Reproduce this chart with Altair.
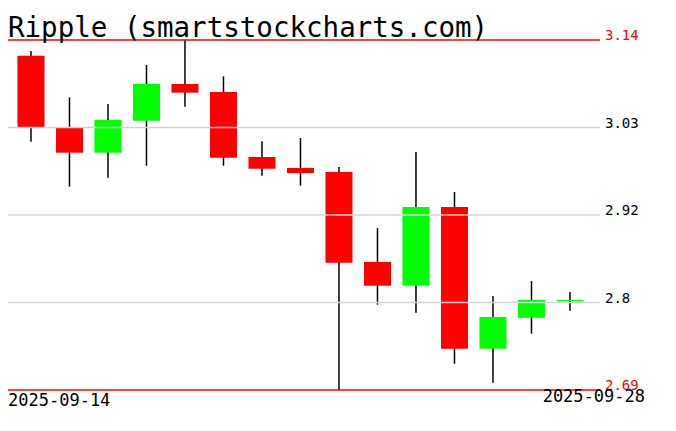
import altair as alt
import pandas as pd

title_text = "Ripple (smartstockcharts.com)"
dates = ["2025-09-14", "2025-09-15", "2025-09-16", "2025-09-17", "2025-09-18",
         "2025-09-19", "2025-09-20", "2025-09-21", "2025-09-22", "2025-09-23",
         "2025-09-24", "2025-09-25", "2025-09-26", "2025-09-27", "2025-09-28"]
opens = [3.1198, 3.0281, 2.9951, 3.0362, 3.0834, 3.0731, 2.9896, 2.9754,
         2.9703, 2.8546, 2.8241, 2.9253, 2.7431, 2.7830, 2.8042]
closes = [3.0269, 2.9951, 3.0371, 3.0834, 3.0723, 2.9887, 2.9745, 2.9690,
          2.8537, 2.8241, 2.9253, 2.7431, 2.7839, 2.8057, 2.8058]
highs = [3.1259, 3.0663, 3.0577, 3.1079, 3.1400, 3.0933, 3.0098, 3.0140,
         2.9767, 2.8983, 2.9960, 2.9446, 2.8109, 2.8302, 2.8160]
lows = [3.0092, 2.9514, 2.9630, 2.9784, 3.0543, 2.9784, 2.9655, 2.9527,
        2.6900, 2.7997, 2.7894, 2.7238, 2.6994, 2.7624, 2.7920]

grid_levels = [3.0275, 2.915, 2.8025]
grid_labels = ["3.03", "2.92", "2.8"]
limit_levels = [3.14, 2.69]
limit_labels = ["3.14", "2.69"]

FONT = "DejaVu Sans Mono"
W, H = 592, 350

df = pd.DataFrame({"idx": list(range(len(dates))), "date": dates,
                   "open": opens, "close": closes, "high": highs, "low": lows})

xs = alt.Scale(domain=[-0.467, 14.65], nice=False, zero=False)
ys = alt.Scale(domain=[2.69, 3.14], nice=False, zero=False)
X = alt.X("idx:Q", scale=xs, axis=None)

wicks = alt.Chart(df).mark_rule(color="black", strokeWidth=1.5).encode(
    x=X, y=alt.Y("low:Q", scale=ys, axis=None), y2="high:Q")

bodies = alt.Chart(df).mark_bar(size=27).encode(
    x=X, y=alt.Y("open:Q", scale=ys, axis=None), y2="close:Q",
    color=alt.condition("datum.close >= datum.open", alt.value("#00ff00"), alt.value("#ff0000")))

gdf = pd.DataFrame({"level": grid_levels, "label": grid_labels})
ldf = pd.DataFrame({"level": limit_levels, "label": limit_labels})

grid = alt.Chart(gdf).mark_rule(color="#d3d3d3", strokeWidth=1.5).encode(
    y=alt.Y("level:Q", scale=ys, axis=None), x=alt.value(0), x2=alt.value(W))
grid_txt = alt.Chart(gdf).mark_text(align="left", baseline="alphabetic", font=FONT,
                                    fontSize=14, color="black").encode(
    y=alt.Y("level:Q", scale=ys, axis=None), x=alt.value(597), text="label:N")

lims = alt.Chart(ldf).mark_rule(color="#ff0000", strokeWidth=1.5).encode(
    y=alt.Y("level:Q", scale=ys, axis=None), x=alt.value(0), x2=alt.value(W))
lim_txt = alt.Chart(ldf).mark_text(align="left", baseline="alphabetic", font=FONT,
                                   fontSize=14, color="#ff0000").encode(
    y=alt.Y("level:Q", scale=ys, axis=None), x=alt.value(597), text="label:N")

title = alt.Chart(pd.DataFrame({"t": [title_text]})).mark_text(
    align="left", baseline="alphabetic", font=FONT, fontSize=27.5, color="black").encode(
    x=alt.value(0), y=alt.value(-3), text="t:N")

d_first = alt.Chart(pd.DataFrame({"t": [dates[0]]})).mark_text(
    align="left", baseline="alphabetic", font=FONT, fontSize=17, color="black").encode(
    x=alt.value(0), y=alt.value(366), text="t:N")
d_last = alt.Chart(pd.DataFrame({"t": [dates[-1]]})).mark_text(
    align="right", baseline="alphabetic", font=FONT, fontSize=17, color="black").encode(
    x=alt.value(637), y=alt.value(362), text="t:N")

chart = alt.layer(wicks, bodies, grid, lims, grid_txt, lim_txt, title, d_first, d_last).properties(
    width=W, height=H,
    autosize=alt.AutoSizeParams(type="none"),
    padding={"left": 0, "top": 32, "right": 60, "bottom": 30},
    background="white",
).configure_view(stroke=None)

chart.save("out.html", embed_options={"renderer": "svg", "actions": False})
